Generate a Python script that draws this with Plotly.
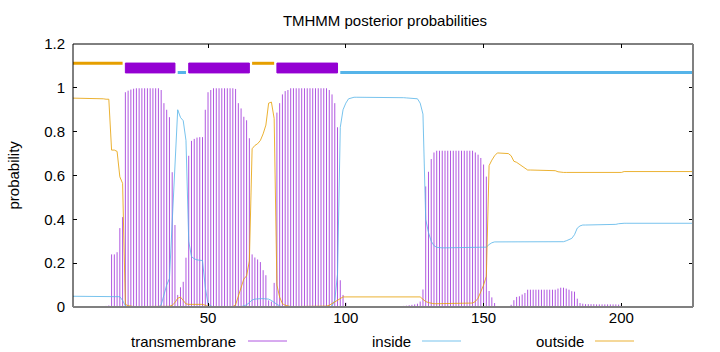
import plotly.graph_objects as go

# ---------------- data ----------------
TITLE = "TMHMM posterior probabilities"
Y_LABEL = "probability"
SERIES_NAMES = ["transmembrane", "inside", "outside"]
X_TICKS = [50, 100, 150, 200]
Y_TICKS = [0, 0.2, 0.4, 0.6, 0.8, 1, 1.2]

POS = list(range(1, 227))  # residue index

TM = [
    0, 0, 0, 0, 0, 0, 0, 0, 0, 0,
    0.003, 0.004, 0.005, 0.007, 0.24, 0.24, 0.25, 0.36, 0.41, 0.98,
    0.987, 0.992, 0.996, 0.998, 0.998, 0.998, 0.998, 0.998, 0.998, 0.998,
    0.998, 0.998, 0.99, 0.93, 0.90, 0.866, 0.615, 0.374, 0.055, 0.09,
    0.115, 0.225, 0.69, 0.758, 0.767, 0.773, 0.775, 0.775, 0.90, 0.98,
    0.99, 0.998, 0.998, 0.998, 0.998, 0.998, 0.998, 0.998, 0.998, 0.995,
    0.93, 0.906, 0.868, 0.852, 0.77, 0.24, 0.226, 0.217, 0.205, 0.168,
    0.145, 0.03, 0.025, 0.11, 0.887, 0.93, 0.97, 0.985, 0.99, 0.998,
    0.998, 0.998, 0.998, 0.998, 0.998, 0.998, 0.998, 0.998, 0.998, 0.998,
    0.998, 0.998, 0.998, 0.99, 0.97, 0.93, 0.82, 0.122, 0.055, 0.02,
    0.003, 0.002, 0.002, 0.002, 0.002, 0.002, 0.002, 0.002, 0.002, 0.002,
    0.002, 0.002, 0.002, 0.002, 0.002, 0.002, 0.002, 0.003, 0.003, 0.004,
    0.005, 0.006, 0.008, 0.01, 0.012, 0.015, 0.025, 0.08, 0.55, 0.617,
    0.675, 0.705, 0.713, 0.713, 0.713, 0.713, 0.713, 0.713, 0.713, 0.713,
    0.713, 0.713, 0.713, 0.713, 0.713, 0.713, 0.705, 0.695, 0.68, 0.65,
    0.595, 0.073, 0.044, 0.018, 0.003, 0.003, 0.003, 0.003, 0.003, 0.01,
    0.031, 0.046, 0.049, 0.057, 0.064, 0.079, 0.079, 0.079, 0.079, 0.079,
    0.079, 0.079, 0.079, 0.079, 0.079, 0.079, 0.084, 0.088, 0.088, 0.084,
    0.079, 0.072, 0.07, 0.038, 0.018, 0.015, 0.013, 0.013, 0.013, 0.013,
    0.012, 0.012, 0.012, 0.012, 0.012, 0.012, 0.012, 0.012, 0.011, 0.011,
    0, 0, 0, 0, 0, 0, 0, 0, 0, 0,
    0, 0, 0, 0, 0, 0, 0, 0, 0, 0,
    0, 0, 0, 0, 0, 0,
]

INSIDE = [
    0.049, 0.049, 0.049, 0.049, 0.049, 0.049, 0.049, 0.049, 0.049, 0.049,
    0.049, 0.049, 0.049, 0.049, 0.049, 0.049, 0.049, 0.047, 0.03, 0.005,
    0, 0, 0, 0, 0, 0, 0, 0, 0, 0,
    0, 0, 0.01, 0.06, 0.1, 0.13, 0.37, 0.6, 0.9, 0.865,
    0.85, 0.76, 0.3, 0.23, 0.22, 0.215, 0.213, 0.212, 0.09, 0.015,
    0.005, 0, 0, 0, 0, 0, 0, 0, 0, 0,
    0, 0.002, 0.005, 0.01, 0.02, 0.032, 0.036, 0.038, 0.038, 0.038,
    0.038, 0.036, 0.03, 0.02, 0.012, 0.005, 0, 0, 0, 0,
    0, 0, 0, 0, 0, 0, 0, 0, 0, 0,
    0, 0, 0, 0, 0.005, 0.03, 0.15, 0.82, 0.9, 0.93,
    0.95, 0.955, 0.957, 0.957, 0.957, 0.957, 0.958, 0.958, 0.958, 0.958,
    0.958, 0.958, 0.958, 0.958, 0.957, 0.957, 0.957, 0.956, 0.955, 0.955,
    0.955, 0.954, 0.953, 0.953, 0.952, 0.95, 0.93, 0.88, 0.40, 0.34,
    0.3, 0.28, 0.272, 0.27, 0.27, 0.27, 0.27, 0.27, 0.27, 0.27,
    0.27, 0.27, 0.27, 0.27, 0.27, 0.27, 0.27, 0.27, 0.27, 0.271,
    0.273, 0.285, 0.293, 0.297, 0.297, 0.297, 0.297, 0.297, 0.297, 0.297,
    0.297, 0.297, 0.297, 0.297, 0.297, 0.297, 0.297, 0.297, 0.297, 0.298,
    0.298, 0.298, 0.298, 0.298, 0.298, 0.298, 0.298, 0.298, 0.298, 0.302,
    0.306, 0.313, 0.33, 0.36, 0.37, 0.374, 0.374, 0.374, 0.374, 0.374,
    0.374, 0.374, 0.374, 0.374, 0.375, 0.375, 0.376, 0.377, 0.38, 0.382,
    0.382, 0.382, 0.382, 0.382, 0.382, 0.382, 0.382, 0.382, 0.382, 0.382,
    0.382, 0.382, 0.382, 0.382, 0.382, 0.382, 0.382, 0.382, 0.382, 0.382,
    0.382, 0.382, 0.382, 0.382, 0.382, 0.382,
]

OUTSIDE = [
    0.953, 0.953, 0.953, 0.953, 0.953, 0.953, 0.953, 0.953, 0.953, 0.953,
    0.953, 0.95, 0.948, 0.948, 0.716, 0.716, 0.71, 0.594, 0.564, 0.012,
    0.006, 0.003, 0.002, 0.002, 0.002, 0.002, 0.002, 0.002, 0.002, 0.002,
    0.002, 0.002, 0.002, 0.002, 0.002, 0.003, 0.008, 0.02, 0.04, 0.045,
    0.03, 0.014, 0.012, 0.012, 0.012, 0.012, 0.012, 0.012, 0.008, 0.003,
    0.002, 0.002, 0.002, 0.002, 0.002, 0.002, 0.002, 0.002, 0.002, 0.01,
    0.05, 0.09, 0.128, 0.142, 0.21, 0.722, 0.737, 0.745, 0.76, 0.79,
    0.83, 0.93, 0.935, 0.86, 0.1, 0.045, 0.015, 0.008, 0.004, 0.002,
    0.002, 0.002, 0.002, 0.002, 0.002, 0.002, 0.002, 0.002, 0.002, 0.002,
    0.002, 0.002, 0.004, 0.008, 0.015, 0.025, 0.03, 0.04, 0.046, 0.046,
    0.046, 0.046, 0.046, 0.046, 0.046, 0.046, 0.046, 0.046, 0.046, 0.046,
    0.046, 0.046, 0.046, 0.046, 0.046, 0.046, 0.046, 0.046, 0.046, 0.046,
    0.046, 0.046, 0.046, 0.046, 0.046, 0.046, 0.046, 0.035, 0.025, 0.02,
    0.016, 0.015, 0.015, 0.015, 0.015, 0.015, 0.015, 0.015, 0.015, 0.015,
    0.015, 0.015, 0.015, 0.015, 0.015, 0.018, 0.025, 0.04, 0.07, 0.1,
    0.14, 0.645, 0.67, 0.69, 0.703, 0.703, 0.703, 0.703, 0.7, 0.69,
    0.665, 0.66, 0.652, 0.645, 0.635, 0.625, 0.625, 0.625, 0.625, 0.625,
    0.625, 0.625, 0.625, 0.625, 0.625, 0.622, 0.617, 0.614, 0.614, 0.614,
    0.614, 0.614, 0.614, 0.614, 0.614, 0.614, 0.614, 0.614, 0.614, 0.614,
    0.614, 0.614, 0.614, 0.614, 0.614, 0.614, 0.614, 0.614, 0.614, 0.614,
    0.618, 0.618, 0.618, 0.618, 0.618, 0.618, 0.618, 0.618, 0.618, 0.618,
    0.618, 0.618, 0.618, 0.618, 0.618, 0.618, 0.618, 0.618, 0.618, 0.618,
    0.618, 0.618, 0.618, 0.618, 0.618, 0.618,
]

# predicted topology segments (start, end)
TM_SEGS = [(20, 38), (43, 65), (75, 97)]
IN_SEGS = [(39, 42), (98, 226)]
OUT_SEGS = [(1, 19), (66, 74)]

# ---------------- styling ----------------
C_TM = "#9400D3"
C_TM_IMP = "#b057e0"
C_IN = "#56B4E9"
C_OUT = "#E69F00"
C_IN_LINE = "rgba(86,180,233,0.8)"
C_OUT_LINE = "rgba(230,159,0,0.8)"
FONT = "Liberation Sans, Arial, Helvetica, sans-serif"

W, H = 720, 352
ML, MR, MT, MB = 73, 27, 44, 45
PW, PH = W - ML - MR, H - MT - MB


def px_x(px):
    return (px - ML) / PW


def px_y(py):
    return (H - MB - py) / PH


fig = go.Figure()

# transmembrane impulses
ix, iy = [], []
for p, v in zip(POS, TM):
    ix += [p, p, None]
    iy += [0, v, None]
fig.add_trace(go.Scatter(x=ix, y=iy, mode="lines", line=dict(color=C_TM_IMP, width=1),
                         showlegend=False, hoverinfo="skip"))
fig.add_trace(go.Scatter(x=POS, y=INSIDE, mode="lines", line=dict(color=C_IN_LINE, width=1),
                         showlegend=False))
fig.add_trace(go.Scatter(x=POS, y=OUTSIDE, mode="lines", line=dict(color=C_OUT_LINE, width=1),
                         showlegend=False))

# topology bars on top
for a, b in OUT_SEGS:
    fig.add_trace(go.Scatter(x=[a, b], y=[1.112, 1.112], mode="lines",
                             line=dict(color=C_OUT, width=3), showlegend=False, hoverinfo="skip"))
for a, b in IN_SEGS:
    fig.add_trace(go.Scatter(x=[a, b], y=[1.07, 1.07], mode="lines",
                             line=dict(color=C_IN, width=3), showlegend=False, hoverinfo="skip"))
for a, b in TM_SEGS:
    fig.add_trace(go.Scatter(x=[a, b, b, a, a], y=[1.068, 1.068, 1.113, 1.113, 1.068],
                             mode="lines", fill="toself", fillcolor=C_TM,
                             line=dict(color=C_TM, width=1), showlegend=False, hoverinfo="skip"))

shapes = [
    dict(type="line", xref="paper", yref="paper", x0=0, x1=0, y0=0, y1=1,
         line=dict(color="#000000", width=1)),
    dict(type="line", xref="paper", yref="paper", x0=0, x1=1, y0=1, y1=1,
         line=dict(color="#000000", width=1)),
    dict(type="line", xref="paper", yref="paper", x0=0, x1=1, y0=0, y1=0,
         line=dict(color="#808080", width=2)),
    dict(type="line", xref="paper", yref="paper", x0=1, x1=1, y0=0, y1=1,
         line=dict(color="#808080", width=2)),
]

annotations = [
    dict(text=Y_LABEL, xref="paper", yref="paper", x=px_x(13), y=0.5, textangle=-90,
         showarrow=False, xanchor="center", yanchor="middle",
         font=dict(family=FONT, size=15, color="#000")),
]

# legend drawn gnuplot-style: text then sample line
legend_items = [
    (SERIES_NAMES[0], C_TM_IMP, 238, 248, 287),
    (SERIES_NAMES[1], C_IN_LINE, 413, 422, 461),
    (SERIES_NAMES[2], C_OUT_LINE, 586, 595, 634),
]
for name, col, tx, l0, l1 in legend_items:
    annotations.append(dict(text=name, xref="paper", yref="paper", x=px_x(tx), y=px_y(341),
                            xanchor="right", yanchor="middle", showarrow=False,
                            font=dict(family=FONT, size=15, color="#000")))
    shapes.append(dict(type="line", xref="paper", yref="paper", x0=px_x(l0), x1=px_x(l1),
                       y0=px_y(341), y1=px_y(341), line=dict(color=col, width=1)))

fig.update_layout(
    width=W, height=H,
    margin=dict(l=ML, r=MR, t=MT, b=MB, pad=0),
    paper_bgcolor="white", plot_bgcolor="white",
    font=dict(family=FONT, size=15, color="#000"),
    title=dict(text=TITLE, x=385 / W, xanchor="center", xref="container",
               y=1 - 21 / H, yanchor="middle", font=dict(family=FONT, size=15, color="#000")),
    xaxis=dict(range=[1, 226], tickvals=X_TICKS, ticks="inside", ticklen=4, tickcolor="#000",
               showgrid=False, zeroline=False, showline=False, mirror="ticks",
               tickfont=dict(family=FONT, size=15, color="#000")),
    yaxis=dict(range=[0, 1.2], tickvals=Y_TICKS, ticks="inside", ticklen=4, tickcolor="#000",
               showgrid=False, zeroline=False, showline=False, mirror="ticks",
               ticklabelstandoff=7,
               tickfont=dict(family=FONT, size=15, color="#000")),
    shapes=shapes,
    annotations=annotations,
    showlegend=False,
)

fig.write_html("out.html")
